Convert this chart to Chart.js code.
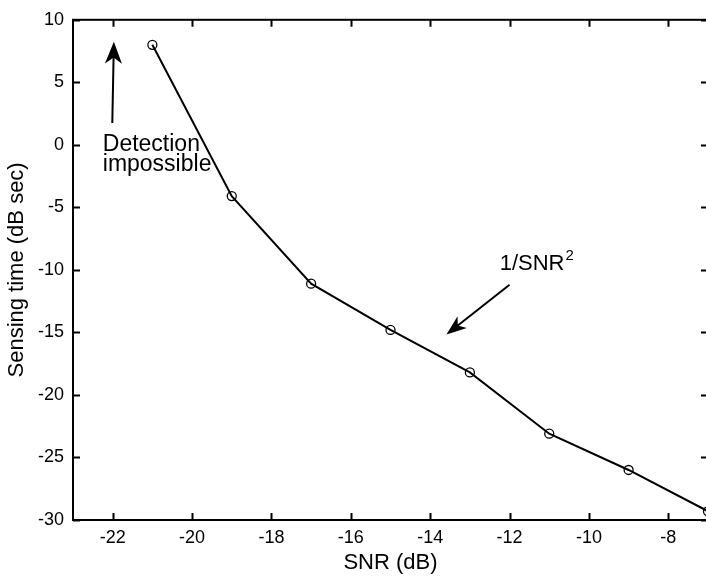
<!DOCTYPE html>
<html>
<head>
<meta charset="utf-8">
<script src="https://cdn.jsdelivr.net/npm/chart.js@4/dist/chart.umd.min.js"></script>
<style>
html,body{margin:0;padding:0;background:#fff;overflow:hidden;width:706px;height:577px;}
canvas{display:block;}
</style>
</head>
<body>
<canvas id="c" width="740" height="577"></canvas>
<script>
// ---- data ----
const snrDb = [-21, -19, -17, -15, -13, -11, -9, -7];
const sensingTimeDb = [8.0, -4.1, -11.1, -14.8, -18.2, -23.1, -26.0, -29.3];
const xTicks = [-22, -20, -18, -16, -14, -12, -10, -8];
const yTicks = [-30, -25, -20, -15, -10, -5, 0, 5, 10];
const xTitle = 'SNR (dB)';
const yTitle = 'Sensing time (dB sec)';
const noteDetection = ['Detection', 'impossible'];
const noteDetectionPos = {x: -22.25, y1: -0.48, y2: -2.06};
const arrowDetection = {from: [-22.01, 1.75], to: [-21.97, 8.25]};
const noteSnr = {text: '1/SNR', sup: '2', x: -12.25, y: -10.0};
const arrowSnr = {from: [-12.0, -11.19], to: [-13.59, -15.16]};

const FONT = '"Liberation Sans", Arial, Helvetica, sans-serif';

function arrow(ctx, x1, y1, x2, y2, len, half) {
  const a = Math.atan2(y2 - y1, x2 - x1);
  ctx.beginPath();
  ctx.moveTo(x1, y1);
  ctx.lineTo(x2 - Math.cos(a) * len * 0.6, y2 - Math.sin(a) * len * 0.6);
  ctx.stroke();
  const bx = x2 - Math.cos(a) * len, by = y2 - Math.sin(a) * len;
  const nx = -Math.sin(a), ny = Math.cos(a);
  const mx = x2 - Math.cos(a) * len * 0.72, my = y2 - Math.sin(a) * len * 0.72;
  ctx.beginPath();
  ctx.moveTo(x2, y2);
  ctx.lineTo(bx + nx * half, by + ny * half);
  ctx.lineTo(mx, my);
  ctx.lineTo(bx - nx * half, by - ny * half);
  ctx.closePath();
  ctx.fill();
}

const framePlugin = {
  id: 'frame',
  afterDatasetsDraw(chart) {
    const {ctx, chartArea: ca, scales: {x, y}} = chart;
    ctx.save();
    ctx.strokeStyle = '#000';
    ctx.fillStyle = '#000';
    ctx.lineWidth = 2;
    ctx.strokeRect(ca.left, ca.top, ca.right - ca.left, ca.bottom - ca.top);
    const tl = 7;
    ctx.beginPath();
    xTicks.forEach(v => {
      const px = Math.round(x.getPixelForValue(v)) + 0.5;
      ctx.moveTo(px, ca.bottom); ctx.lineTo(px, ca.bottom - tl);
      ctx.moveTo(px, ca.top); ctx.lineTo(px, ca.top + tl);
    });
    yTicks.forEach(v => {
      const py = Math.round(y.getPixelForValue(v)) + 0.5;
      ctx.moveTo(ca.left, py); ctx.lineTo(ca.left + tl, py);
      ctx.moveTo(ca.right, py); ctx.lineTo(ca.right - tl, py);
    });
    ctx.lineWidth = 2;
    ctx.stroke();

    // annotations
    ctx.lineWidth = 2;
    arrow(ctx,
      x.getPixelForValue(arrowDetection.from[0]), y.getPixelForValue(arrowDetection.from[1]),
      x.getPixelForValue(arrowDetection.to[0]), y.getPixelForValue(arrowDetection.to[1]), 22, 8.5);
    arrow(ctx,
      x.getPixelForValue(arrowSnr.from[0]), y.getPixelForValue(arrowSnr.from[1]),
      x.getPixelForValue(arrowSnr.to[0]), y.getPixelForValue(arrowSnr.to[1]), 20, 7.5);

    ctx.font = '23px ' + FONT;
    ctx.textAlign = 'left';
    ctx.textBaseline = 'alphabetic';
    const dx = x.getPixelForValue(noteDetectionPos.x);
    ctx.fillText(noteDetection[0], dx, y.getPixelForValue(noteDetectionPos.y1));
    ctx.fillText(noteDetection[1], dx, y.getPixelForValue(noteDetectionPos.y2));

    ctx.font = '22px ' + FONT;
    const sx = x.getPixelForValue(noteSnr.x), sy = y.getPixelForValue(noteSnr.y);
    ctx.fillText(noteSnr.text, sx, sy);
    const w = ctx.measureText(noteSnr.text).width;
    ctx.font = '15px ' + FONT;
    ctx.fillText(noteSnr.sup, sx + w + 1, sy - 10);
    ctx.restore();
  }
};

new Chart(document.getElementById('c'), {
  type: 'line',
  data: {
    datasets: [{
      data: snrDb.map((v, i) => ({x: v, y: sensingTimeDb[i]})),
      borderColor: '#000',
      borderWidth: 2,
      pointStyle: 'circle',
      pointRadius: 4.5,
      pointBorderWidth: 1.3,
      pointBorderColor: '#000',
      pointBackgroundColor: 'rgba(0,0,0,0)',
      tension: 0,
      fill: false
    }]
  },
  options: {
    responsive: false,
    devicePixelRatio: 1,
    animation: false,
    events: [],
    layout: {padding: {left: 0, top: 16, right: 32, bottom: 0}},
    plugins: {legend: {display: false}, tooltip: {enabled: false}},
    scales: {
      x: {
        type: 'linear', position: 'bottom', min: -23, max: -7,
        afterBuildTicks: s => { s.ticks = xTicks.map(v => ({value: v})); },
        afterFit: s => { s.height = 57; },
        grid: {display: false, drawTicks: false, tickLength: 0},
        border: {display: false},
        ticks: {color: '#000', padding: 7, font: {family: FONT, size: 18}, callback: v => String(v), maxRotation: 0, autoSkip: false},
        title: {display: true, text: xTitle, color: '#000', font: {family: FONT, size: 22}, padding: {top: 0, bottom: 1}}
      },
      y: {
        type: 'linear', position: 'left', min: -30, max: 10,
        afterBuildTicks: s => { s.ticks = yTicks.map(v => ({value: v})); },
        afterFit: s => { s.width = 73; },
        grid: {display: false, drawTicks: false, tickLength: 0},
        border: {display: false},
        ticks: {color: '#000', padding: 9, font: {family: FONT, size: 18}, callback: v => String(v), autoSkip: false},
        title: {display: true, text: yTitle, color: '#000', font: {family: FONT, size: 22}, padding: {top: 4, bottom: 0}}
      }
    }
  },
  plugins: [framePlugin]
});
</script>
</body>
</html>
